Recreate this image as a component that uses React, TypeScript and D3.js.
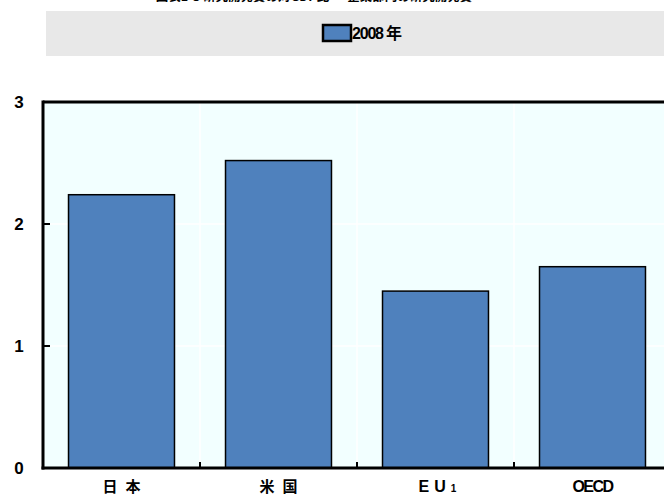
import React from "react";
import * as d3 from "d3";

const categories: string[] = ["日本", "米国", "EU", "OECD"];
const values2008: number[] = [2.24, 2.52, 1.45, 1.65];
const yTicks: number[] = [0, 1, 2, 3];
const legendLabel = "2008 年";
const titleText = "図表1-3 研究開発費の対GDP比 ― 企業部門の研究開発費";

const W = 664;
const H = 496;
const M = { left: 43, top: 102, right: 671, bottom: 468 };

export default function App() {
  const x = d3
    .scaleBand<string>()
    .domain(categories)
    .range([M.left, M.right])
    .paddingInner(0.325)
    .paddingOuter(0.1625);
  const y = d3.scaleLinear().domain([0, 3]).range([M.bottom, M.top]);
  const step = x.step();
  const boundaries = categories.slice(1).map((c) => (x(c) as number) - (step * 0.325) / 2);
  const font = "'Liberation Sans', Arial, 'Noto Sans CJK JP', sans-serif";
  const cjk = "'Noto Sans CJK JP', 'Liberation Sans', sans-serif";

  const renderCat = (c: string) => {
    const cx = (x(c) as number) + x.bandwidth() / 2;
    if (c === "EU") {
      return (
        <text key={c} x={cx + 2} y={492} textAnchor="middle" fontFamily={font} fontWeight="bold" fontSize={16} letterSpacing={5}>
          EU<tspan fontSize={10} letterSpacing={0}>1</tspan>
        </text>
      );
    }
    if (c === "OECD") {
      return (
        <text key={c} x={cx} y={492} textAnchor="middle" fontFamily={font} fontWeight="bold" fontSize={16} letterSpacing={-1.5}>
          {c}
        </text>
      );
    }
    return (
      <text key={c} x={cx + 4} y={492} textAnchor="middle" fontFamily={cjk} fontWeight="bold" fontSize={15} letterSpacing={8}>
        {c}
      </text>
    );
  };

  return (
    <svg width={W} height={H} style={{ position: "absolute", left: 0, top: 0, background: "#fff" }}>
      <text x={314} y={0.5} textAnchor="middle" fontFamily={cjk} fontWeight="bold" fontSize={12.5} fill="#000">
        {titleText}
      </text>
      <rect x={46} y={11} width={W - 46} height={45} fill="#e8e8e8" />
      <rect x={323} y={25} width={28} height={16} fill="#4f81bd" stroke="#000" strokeWidth={2.5} />
      <text x={352} y={39} fontFamily={font} fontWeight="bold" fontSize={16} letterSpacing={-1.2}>
        {legendLabel}
      </text>

      <rect x={M.left} y={M.top} width={M.right - M.left} height={M.bottom - M.top} fill="#f2ffff" />
      {[1, 2].map((t) => (
        <line key={"gy" + t} x1={M.left} x2={M.right} y1={y(t)} y2={y(t)} stroke="#ffffff" strokeWidth={1.5} />
      ))}
      {boundaries.map((b, i) => (
        <line key={"gx" + i} x1={b} x2={b} y1={M.top} y2={M.bottom} stroke="#ffffff" strokeWidth={1.5} />
      ))}

      {categories.map((c, i) => (
        <rect
          key={c}
          x={x(c)}
          y={y(values2008[i])}
          width={x.bandwidth()}
          height={M.bottom - y(values2008[i])}
          fill="#4f81bd"
          stroke="#000"
          strokeWidth={1.5}
        />
      ))}

      <line x1={M.left} x2={M.right} y1={M.top} y2={M.top} stroke="#000" strokeWidth={3} />
      <line x1={M.left} x2={M.left} y1={M.top - 1.5} y2={M.bottom + 1.5} stroke="#000" strokeWidth={3} />
      <line x1={M.left - 1.5} x2={M.right} y1={M.bottom} y2={M.bottom} stroke="#000" strokeWidth={3} />
      {[1, 2].map((t) => (
        <line key={"ty" + t} x1={M.left} x2={M.left + 7} y1={y(t)} y2={y(t)} stroke="#000" strokeWidth={2} />
      ))}
      {boundaries.map((b, i) => (
        <line key={"tx" + i} x1={b} x2={b} y1={M.bottom} y2={M.bottom - 6} stroke="#000" strokeWidth={2} />
      ))}

      {yTicks.map((t) => (
        <text key={"yl" + t} x={19} y={y(t) + 6} textAnchor="middle" fontFamily={font} fontWeight="bold" fontSize={17}>
          {t}
        </text>
      ))}
      {categories.map(renderCat)}
    </svg>
  );
}
